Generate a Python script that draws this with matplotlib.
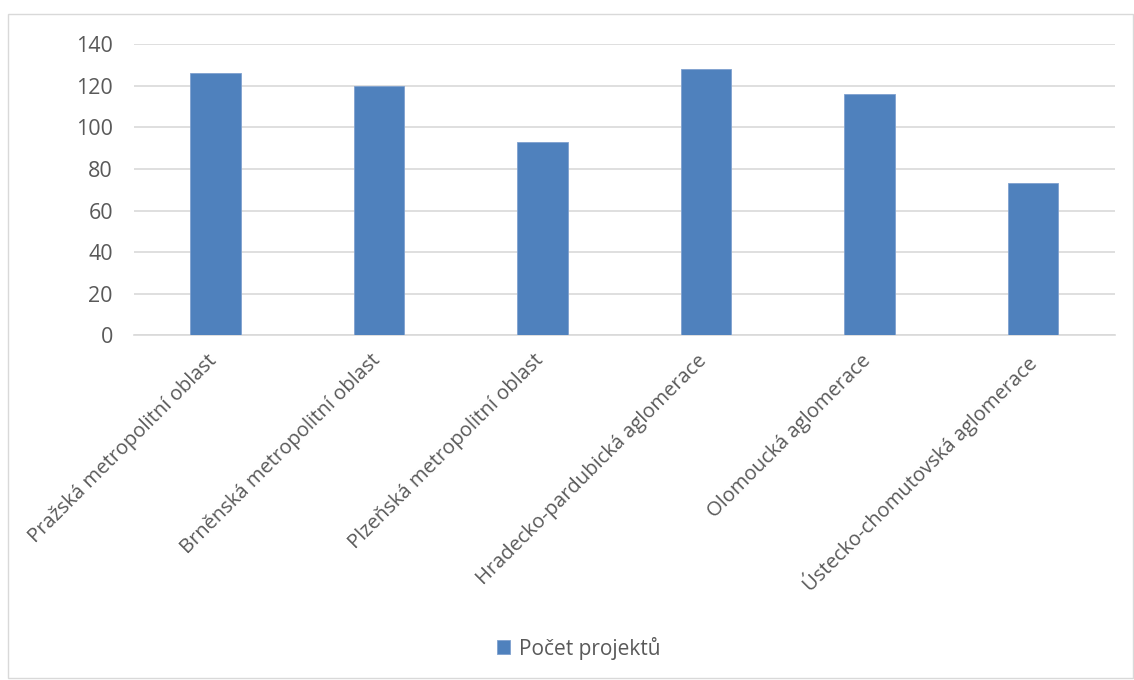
import numpy as np
import matplotlib.pyplot as plt
from matplotlib.patches import Rectangle
from matplotlib.transforms import ScaledTranslation

categories = [
    "Pražská metropolitní oblast",
    "Brněnská metropolitní oblast",
    "Plzeňská metropolitní oblast",
    "Hradecko-pardubická aglomerace",
    "Olomoucká aglomerace",
    "Ústecko-chomutovská aglomerace",
]
values = [126, 120, 93, 128, 116, 73]
series_name = "Počet projektů"
y_ticks = [0, 20, 40, 60, 80, 100, 120, 140]

text_color = "#595959"
grid_color = "#D9D9D9"
bar_color = "#4F81BD"

plt.rcParams['font.family'] = ['Open Sans', 'DejaVu Sans']

fig = plt.figure(figsize=(11.34, 6.8), dpi=100)
ax = fig.add_axes([0.118, 0.507, 0.865, 0.428])

x = np.arange(len(categories))
ax.bar(x, values, width=0.31, color=bar_color, edgecolor="#7FA1CF",
       linewidth=0.6, label=series_name, zorder=3)

ax.set_xlim(-0.5, len(categories) - 0.5)
ax.set_ylim(0, 140)
ax.set_yticks(y_ticks)
ax.set_yticklabels([str(t) for t in y_ticks], fontsize=15.5, color=text_color)
ax.set_xticks(x)
ax.set_xticklabels(categories, rotation=45, ha="right", rotation_mode="anchor",
                   fontsize=14.5, color=text_color)
ax.tick_params(axis="y", length=0, pad=15)
ax.tick_params(axis="x", length=0, pad=6)

# nudge the rotated category labels a little left and down
shift = ScaledTranslation(-0.09, -0.07, fig.dpi_scale_trans)
for lbl in ax.get_xticklabels():
    lbl.set_transform(lbl.get_transform() + shift)

ax.grid(axis="y", color=grid_color, linewidth=1.2, zorder=0)
for side in ["top", "right", "left"]:
    ax.spines[side].set_visible(False)
ax.spines["bottom"].set_color(grid_color)
ax.spines["bottom"].set_linewidth(1.2)

fig.legend(loc="center", bbox_to_anchor=(0.51, 1 - 648 / 680), frameon=False,
           fontsize=15, labelcolor=text_color, handlelength=0.65,
           handleheight=0.65, handletextpad=0.4)

# light border around the chart area
fig.patches.append(Rectangle((8 / 1134, 2 / 680), 1 - 9 / 1134, 1 - 16 / 680,
                             transform=fig.transFigure, fill=False,
                             edgecolor="#D9D9D9", linewidth=1))

plt.savefig("out.png", dpi=100)
